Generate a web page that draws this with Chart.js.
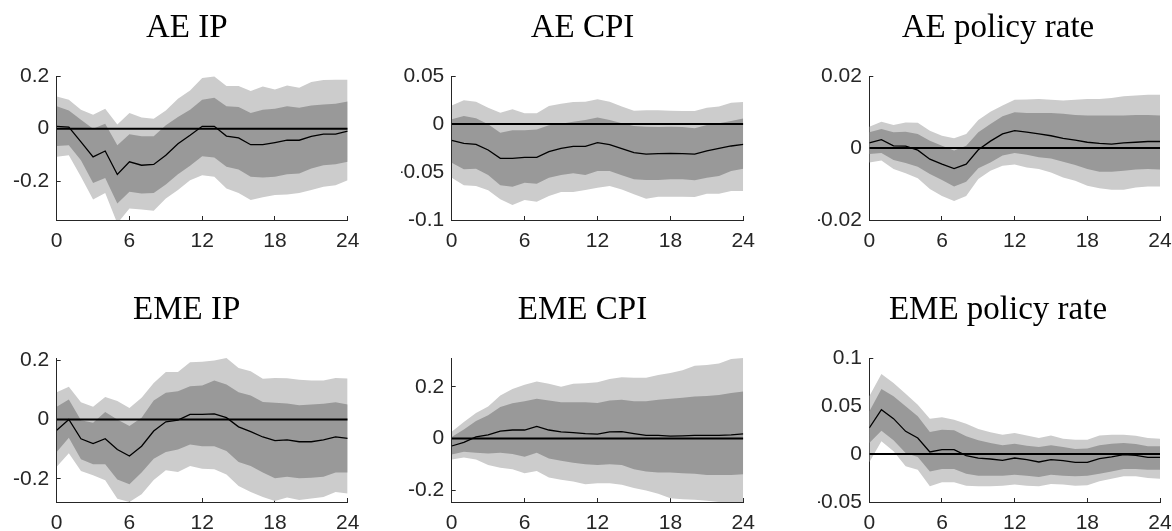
<!DOCTYPE html>
<html>
<head>
<meta charset="utf-8">
<script src="https://cdn.jsdelivr.net/npm/chart.js@4.4.1/dist/chart.umd.min.js"></script>
<style>
    html, body { margin: 0; padding: 0; background: #fff; overflow: hidden; }
    #fig { position: relative; width: 1172px; height: 531px; overflow: hidden; }
    #fig canvas { position: absolute; }
</style>
</head>
<body>
<div id="fig">
    <canvas id="c1"></canvas>
    <canvas id="c2"></canvas>
    <canvas id="c3"></canvas>
    <canvas id="c4"></canvas>
    <canvas id="c5"></canvas>
    <canvas id="c6"></canvas>
</div>
<script>
// horizon (months after shock) and x ticks
const horizon = [0, 1, 2, 3, 4, 5, 6, 7, 8, 9, 10, 11, 12, 13, 14, 15, 16, 17, 18, 19, 20, 21, 22, 23, 24];
const xTicks = [0, 6, 12, 18, 24];

// AE IP
const aeIpMedian = [0.009, 0.006, -0.05, -0.107, -0.085, -0.174, -0.126, -0.139, -0.136, -0.101, -0.057, -0.025, 0.009, 0.009, -0.028, -0.035, -0.061, -0.061, -0.053, -0.044, -0.044, -0.029, -0.021, -0.021, -0.009];
const aeIpHi68 = [0.085, 0.069, 0.034, 0.0, 0.019, -0.063, -0.021, -0.029, -0.029, 0.013, 0.044, 0.072, 0.110, 0.117, 0.085, 0.082, 0.059, 0.072, 0.076, 0.085, 0.079, 0.088, 0.092, 0.095, 0.103];
const aeIpLo68 = [-0.066, -0.063, -0.120, -0.206, -0.187, -0.284, -0.240, -0.246, -0.244, -0.212, -0.173, -0.141, -0.105, -0.110, -0.145, -0.155, -0.183, -0.186, -0.183, -0.173, -0.170, -0.151, -0.139, -0.135, -0.126];
const aeIpHi90 = [0.122, 0.110, 0.072, 0.053, 0.076, 0.016, 0.059, 0.042, 0.038, 0.069, 0.114, 0.145, 0.192, 0.198, 0.162, 0.162, 0.143, 0.160, 0.149, 0.164, 0.155, 0.177, 0.185, 0.186, 0.186];
const aeIpLo90 = [-0.107, -0.101, -0.183, -0.269, -0.244, -0.36, -0.303, -0.307, -0.312, -0.265, -0.233, -0.196, -0.177, -0.183, -0.227, -0.244, -0.271, -0.261, -0.252, -0.250, -0.244, -0.233, -0.221, -0.215, -0.196];
const aeIpTicks = [-0.2, 0, 0.2];

// AE CPI
const aeCpiMedian = [-0.0170, -0.0201, -0.0212, -0.0271, -0.0358, -0.0358, -0.0347, -0.0347, -0.0288, -0.0253, -0.0233, -0.0233, -0.0194, -0.0215, -0.0257, -0.0299, -0.0313, -0.0309, -0.0306, -0.0309, -0.0313, -0.0281, -0.0253, -0.0229, -0.0212];
const aeCpiHi68 = [0.0049, 0.0083, 0.0059, -0.0003, -0.0090, -0.0066, -0.0066, -0.0056, -0.0014, 0.0003, 0.0024, 0.0042, 0.0069, 0.0042, 0.0007, -0.0021, -0.0028, -0.0031, -0.0028, -0.0031, -0.0045, -0.0010, 0.0007, 0.0031, 0.0056];
const aeCpiLo68 = [-0.0403, -0.0472, -0.0465, -0.0531, -0.0639, -0.0653, -0.0611, -0.0622, -0.0559, -0.0531, -0.0514, -0.0531, -0.0490, -0.0490, -0.0535, -0.0576, -0.0583, -0.0583, -0.0576, -0.0576, -0.0587, -0.0559, -0.0542, -0.0490, -0.0465];
const aeCpiHi90 = [0.0194, 0.0247, 0.0233, 0.0170, 0.0118, 0.0153, 0.0111, 0.0111, 0.0188, 0.0212, 0.0229, 0.0233, 0.0257, 0.0233, 0.0181, 0.0139, 0.0142, 0.0142, 0.0139, 0.0135, 0.0135, 0.0170, 0.0181, 0.0222, 0.0229];
const aeCpiLo90 = [-0.0559, -0.0639, -0.0646, -0.0691, -0.0785, -0.0844, -0.0792, -0.0809, -0.0750, -0.0708, -0.0708, -0.0688, -0.0663, -0.0646, -0.0681, -0.0733, -0.0778, -0.0757, -0.0757, -0.0757, -0.0760, -0.0726, -0.0726, -0.0698, -0.0698];
const aeCpiTicks = [-0.1, -0.05, 0, 0.05];

// AE policy rate
const aeRateMedian = [0.0014, 0.0023, 0.0006, 0.0005, -0.0006, -0.0031, -0.0045, -0.0057, -0.0045, -0.0005, 0.0019, 0.0039, 0.0048, 0.0044, 0.0039, 0.0034, 0.0027, 0.0022, 0.0016, 0.0013, 0.0011, 0.0014, 0.0016, 0.0018, 0.0018];
const aeRateHi68 = [0.0044, 0.0053, 0.0044, 0.0045, 0.0039, 0.0020, 0.0006, -0.0007, 0.0006, 0.0044, 0.0067, 0.0088, 0.0099, 0.0097, 0.0097, 0.0097, 0.0095, 0.0092, 0.0090, 0.0090, 0.0090, 0.0090, 0.0092, 0.0092, 0.0090];
const aeRateLo68 = [-0.0017, -0.0014, -0.0033, -0.0042, -0.0052, -0.0072, -0.0089, -0.0107, -0.0094, -0.0056, -0.0040, -0.0021, -0.0014, -0.0019, -0.0026, -0.0029, -0.0038, -0.0047, -0.0058, -0.0066, -0.0066, -0.0063, -0.0060, -0.0058, -0.0060];
const aeRateHi90 = [0.0059, 0.0073, 0.0064, 0.0071, 0.0070, 0.0048, 0.0034, 0.0027, 0.0039, 0.0078, 0.0101, 0.0118, 0.0134, 0.0135, 0.0136, 0.0134, 0.0132, 0.0134, 0.0136, 0.0136, 0.0139, 0.0144, 0.0146, 0.0148, 0.0148];
const aeRateLo90 = [-0.0040, -0.0035, -0.0058, -0.0070, -0.0084, -0.0114, -0.0133, -0.0147, -0.0133, -0.0086, -0.0063, -0.0049, -0.0046, -0.0054, -0.0058, -0.0068, -0.0082, -0.0091, -0.0105, -0.0112, -0.0116, -0.0116, -0.0110, -0.0107, -0.0107];
const aeRateTicks = [-0.02, 0, 0.02];

// EME IP
const emeIpMedian = [-0.036, 0.0, -0.065, -0.081, -0.065, -0.101, -0.123, -0.090, -0.039, -0.008, -0.002, 0.017, 0.017, 0.019, 0.006, -0.025, -0.041, -0.059, -0.071, -0.069, -0.075, -0.075, -0.069, -0.059, -0.064];
const emeIpHi68 = [0.043, 0.067, -0.003, -0.011, 0.025, 0.0, -0.022, 0.006, 0.064, 0.090, 0.095, 0.112, 0.114, 0.131, 0.118, 0.092, 0.081, 0.059, 0.056, 0.054, 0.048, 0.050, 0.053, 0.058, 0.050];
const emeIpLo68 = [-0.110, -0.062, -0.134, -0.151, -0.151, -0.202, -0.218, -0.179, -0.132, -0.110, -0.101, -0.084, -0.090, -0.090, -0.106, -0.143, -0.157, -0.179, -0.198, -0.193, -0.198, -0.196, -0.193, -0.179, -0.179];
const emeIpHi90 = [0.092, 0.110, 0.058, 0.043, 0.076, 0.062, 0.039, 0.073, 0.123, 0.160, 0.160, 0.193, 0.194, 0.199, 0.207, 0.173, 0.162, 0.137, 0.140, 0.139, 0.134, 0.131, 0.131, 0.140, 0.138];
const emeIpLo90 = [-0.159, -0.114, -0.174, -0.188, -0.205, -0.267, -0.278, -0.252, -0.204, -0.171, -0.177, -0.157, -0.166, -0.168, -0.185, -0.224, -0.244, -0.261, -0.275, -0.263, -0.271, -0.266, -0.261, -0.244, -0.249];
const emeIpTicks = [-0.2, 0, 0.2];

// EME CPI
const emeCpiMedian = [-0.029, -0.015, 0.006, 0.014, 0.029, 0.033, 0.033, 0.047, 0.033, 0.026, 0.023, 0.019, 0.017, 0.026, 0.027, 0.019, 0.012, 0.012, 0.009, 0.010, 0.012, 0.012, 0.012, 0.014, 0.018];
const emeCpiHi68 = [0.006, 0.035, 0.068, 0.090, 0.122, 0.137, 0.144, 0.154, 0.147, 0.141, 0.141, 0.141, 0.138, 0.147, 0.150, 0.144, 0.144, 0.150, 0.154, 0.158, 0.163, 0.165, 0.169, 0.176, 0.182];
const emeCpiLo68 = [-0.062, -0.051, -0.055, -0.058, -0.055, -0.060, -0.071, -0.055, -0.077, -0.086, -0.094, -0.100, -0.103, -0.100, -0.103, -0.119, -0.128, -0.132, -0.132, -0.135, -0.137, -0.141, -0.141, -0.141, -0.138];
const emeCpiHi90 = [0.026, 0.064, 0.099, 0.124, 0.167, 0.192, 0.208, 0.221, 0.212, 0.201, 0.212, 0.214, 0.218, 0.231, 0.237, 0.235, 0.235, 0.246, 0.254, 0.265, 0.282, 0.285, 0.291, 0.308, 0.312];
const emeCpiLo90 = [-0.081, -0.074, -0.081, -0.103, -0.113, -0.119, -0.135, -0.126, -0.151, -0.160, -0.167, -0.177, -0.173, -0.173, -0.179, -0.192, -0.201, -0.214, -0.231, -0.235, -0.237, -0.241, -0.246, -0.25, -0.25];
const emeCpiTicks = [-0.2, 0, 0.2];

// EME policy rate
const emeRateMedian = [0.0271, 0.0462, 0.0368, 0.0236, 0.0167, 0.0021, 0.0045, 0.0045, -0.0017, -0.0042, -0.0052, -0.0066, -0.0042, -0.0059, -0.0083, -0.0059, -0.0069, -0.0087, -0.0087, -0.0049, -0.0031, -0.0007, -0.0014, -0.0035, -0.0035];
const emeRateHi68 = [0.0444, 0.0677, 0.0601, 0.0497, 0.0392, 0.0229, 0.0253, 0.0247, 0.0184, 0.0142, 0.0115, 0.0090, 0.0108, 0.0087, 0.0073, 0.0090, 0.0073, 0.0052, 0.0056, 0.0090, 0.0108, 0.0115, 0.0104, 0.0080, 0.0080];
const emeRateLo68 = [0.0115, 0.0243, 0.0142, 0.0010, -0.0031, -0.0181, -0.0156, -0.0156, -0.0205, -0.0226, -0.0226, -0.0226, -0.0215, -0.0226, -0.0240, -0.0215, -0.0226, -0.0233, -0.0226, -0.0205, -0.0181, -0.0156, -0.0156, -0.0163, -0.0163];
const emeRateHi90 = [0.0601, 0.0833, 0.0740, 0.0628, 0.0514, 0.0368, 0.0382, 0.0358, 0.0316, 0.0260, 0.0226, 0.0201, 0.0219, 0.0194, 0.0167, 0.0194, 0.0160, 0.0149, 0.0149, 0.0194, 0.0201, 0.0201, 0.0191, 0.0167, 0.0160];
const emeRateLo90 = [-0.0087, 0.0132, 0.0028, -0.0128, -0.0163, -0.0337, -0.0295, -0.0295, -0.0330, -0.0337, -0.0337, -0.0330, -0.0319, -0.0330, -0.0337, -0.0313, -0.0319, -0.0330, -0.0326, -0.0285, -0.0257, -0.0233, -0.0233, -0.0250, -0.0257];
const emeRateTicks = [-0.05, 0, 0.05, 0.1];

const AXIS_GREY = '#262626';
const DARK_BAND = '#999999';
const LIGHT_BAND = '#cccccc';

function pts(values) {
    return horizon.map((h, i) => ({x: h, y: values[i]}));
}

// box: canvas left/top/width, yw = left axis width, rw = empty space right of the plot (title is centred on canvas minus pr)
function drawPanel(id, box, title, median, lo68, hi68, lo90, hi90, yTicks, yMin, yMax) {
    const canvas = document.getElementById(id);
    canvas.width = box.w;
    canvas.height = 248;
    canvas.style.left = box.left + 'px';
    canvas.style.top = box.top + 'px';

    const zero = horizon.map(() => 0);

    new Chart(canvas.getContext('2d'), {
        type: 'line',
        data: {
            datasets: [
                {data: pts(median), borderColor: '#000', borderWidth: 1.3, fill: false},
                {data: pts(zero), borderColor: '#000', borderWidth: 2, fill: false},
                {data: pts(hi68), borderColor: 'rgba(0,0,0,0)', borderWidth: 0, backgroundColor: DARK_BAND, fill: '+1'},
                {data: pts(lo68), borderColor: 'rgba(0,0,0,0)', borderWidth: 0, fill: false},
                {data: pts(hi90), borderColor: 'rgba(0,0,0,0)', borderWidth: 0, backgroundColor: LIGHT_BAND, fill: '+1'},
                {data: pts(lo90), borderColor: 'rgba(0,0,0,0)', borderWidth: 0, fill: false}
            ]
        },
        options: {
            responsive: false,
            animation: false,
            events: [],
            layout: {padding: {left: 0, right: box.pr, top: 0, bottom: 0}},
            elements: {point: {radius: 0}, line: {tension: 0}},
            plugins: {
                legend: {display: false},
                tooltip: {enabled: false},
                title: {
                    display: true,
                    text: title,
                    color: '#000',
                    font: {family: 'Liberation Serif', size: 33, weight: 'normal'},
                    padding: {top: 9, bottom: 27.4}
                }
            },
            scales: {
                x: {
                    type: 'linear',
                    min: 0,
                    max: 24,
                    afterBuildTicks: s => { s.ticks = xTicks.map(v => ({value: v})); },
                    afterFit: s => { s.height = 28; },
                    grid: {drawOnChartArea: false, tickLength: -4, color: AXIS_GREY},
                    border: {color: AXIS_GREY, width: 1},
                    ticks: {color: AXIS_GREY, padding: 13, maxRotation: 0, font: {family: 'Liberation Sans', size: 21}}
                },
                y: {
                    min: yMin,
                    max: yMax,
                    afterBuildTicks: s => { s.ticks = yTicks.map(v => ({value: v})); },
                    afterFit: s => { s.width = box.yw; },
                    grid: {drawOnChartArea: false, tickLength: -4, color: AXIS_GREY},
                    border: {color: AXIS_GREY, width: 1},
                    ticks: {color: AXIS_GREY, padding: 11.4, callback: v => String(v), font: {family: 'Liberation Sans', size: 21}}
                },
                spacer: {
                    type: 'linear',
                    position: 'right',
                    afterFit: s => { s.width = box.rw; },
                    grid: {display: false},
                    border: {display: false},
                    ticks: {display: false}
                }
            }
        }
    });
}

const col1 = {left: 0, w: 390, yw: 56.7, rw: 25.7, pr: 16.6};
const col2 = {left: 401, w: 375, yw: 50.7, rw: 20.7, pr: 12};
const col3 = {left: 818, w: 372, yw: 51.3, rw: 18, pr: 12};

drawPanel('c1', {...col1, top: 0}, 'AE IP', aeIpMedian, aeIpLo68, aeIpHi68, aeIpLo90, aeIpHi90, aeIpTicks, -0.347, 0.2);
drawPanel('c2', {...col2, top: 0}, 'AE CPI', aeCpiMedian, aeCpiLo68, aeCpiHi68, aeCpiLo90, aeCpiHi90, aeCpiTicks, -0.1, 0.05);
drawPanel('c3', {...col3, top: 0}, 'AE policy rate', aeRateMedian, aeRateLo68, aeRateHi68, aeRateLo90, aeRateHi90, aeRateTicks, -0.02, 0.02);
drawPanel('c4', {...col1, top: 282}, 'EME IP', emeIpMedian, emeIpLo68, emeIpHi68, emeIpLo90, emeIpHi90, emeIpTicks, -0.278, 0.207);
drawPanel('c5', {...col2, top: 282}, 'EME CPI', emeCpiMedian, emeCpiLo68, emeCpiHi68, emeCpiLo90, emeCpiHi90, emeCpiTicks, -0.246, 0.312);
drawPanel('c6', {...col3, top: 282}, 'EME policy rate', emeRateMedian, emeRateLo68, emeRateHi68, emeRateLo90, emeRateHi90, emeRateTicks, -0.05, 0.1);
</script>
</body>
</html>
